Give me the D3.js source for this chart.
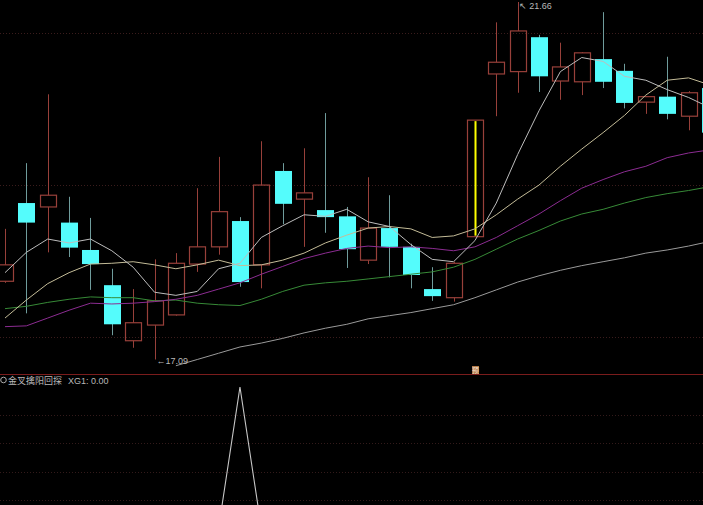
<!DOCTYPE html>
<html><head><meta charset="utf-8">
<script src="https://cdn.jsdelivr.net/npm/d3@7/dist/d3.min.js"></script>
<style>html,body{margin:0;padding:0;background:#000;overflow:hidden}svg{display:block}</style>
</head><body><svg id="c" width="703" height="505"></svg>
<script>
// ---- data ----
const openP  = [18.09,19.09,19.04,18.84,18.49,18.04,17.33,17.53,17.66,18.31,18.53,18.86,18.30,19.50,19.14,19.00,18.92,18.36,18.77,18.53,17.99,17.88,18.66,20.74,20.77,21.21,20.65,20.64,20.93,20.78,20.38,20.45,20.20,20.56];
const highP  = [18.76,19.60,20.48,19.17,18.90,18.25,17.99,18.37,18.45,19.28,19.68,18.91,19.88,19.60,19.79,20.24,19.04,19.42,19.19,18.57,18.27,18.34,20.15,21.40,21.66,21.24,21.14,21.02,21.53,20.87,20.45,20.96,20.52,20.60];
const lowP   = [18.07,17.68,18.46,18.40,17.98,17.40,17.24,17.09,17.65,18.21,18.43,18.02,18.00,18.82,18.53,18.71,18.26,18.31,18.14,18.00,17.84,17.83,18.66,20.20,20.50,20.51,20.41,20.47,20.56,20.30,20.23,20.16,20.02,19.92];
const closeP = [18.30,18.84,19.19,18.52,18.31,17.54,17.56,17.84,18.32,18.53,18.98,18.08,19.32,19.08,19.22,18.91,18.50,18.77,18.53,18.17,17.90,18.32,20.15,20.89,21.29,20.71,20.83,21.01,20.64,20.37,20.45,20.23,20.50,19.99];
const ma5  = [18.20,18.46,18.63,18.58,18.63,18.48,18.27,17.95,17.91,17.96,18.25,18.32,18.65,18.80,18.94,18.92,19.01,18.85,18.79,18.56,18.37,18.34,18.61,19.09,19.71,20.27,20.77,20.95,20.90,20.71,20.66,20.54,20.44,20.31];
const ma10 = [17.62,17.85,18.06,18.20,18.31,18.32,18.34,18.30,18.25,18.30,18.36,18.29,18.30,18.36,18.45,18.58,18.68,18.77,18.79,18.76,18.65,18.67,18.76,18.94,19.14,19.32,19.56,19.78,19.99,20.21,20.47,20.66,20.69,20.60];
const ma20 = [17.51,17.52,17.62,17.72,17.81,17.80,17.81,17.83,17.86,17.91,17.99,18.07,18.18,18.28,18.38,18.45,18.51,18.54,18.52,18.53,18.51,18.48,18.53,18.65,18.80,18.95,19.12,19.28,19.39,19.49,19.56,19.67,19.73,19.77];
const ma30 = [17.74,17.77,17.82,17.86,17.89,17.88,17.88,17.84,17.85,17.81,17.79,17.78,17.86,17.96,18.04,18.07,18.09,18.12,18.15,18.18,18.21,18.27,18.37,18.50,18.63,18.74,18.86,18.95,19.01,19.09,19.16,19.21,19.25,19.30];
const ma60 = [null,null,null,null,null,null,null,null,17.01,17.09,17.17,17.25,17.30,17.36,17.43,17.49,17.54,17.61,17.65,17.69,17.74,17.79,17.88,17.98,18.08,18.16,18.23,18.29,18.34,18.39,18.45,18.49,18.54,18.60];
const xg1  = [0,0,0,0,0,0,0,0,0,0,0,1,0,0,0,0,0,0,0,0,0,0,0,0,0,0,0,0,0,0,0,0,0,0];
const signalIdx = [22];
const priceGrid = [21.26, 19.32, 17.38];
const subGrid = [0.2, 0.4, 0.6, 0.8];
const maxLabel = "21.66", minLabel = "17.09";
const panelTitle = "金叉擒阳回探", panelValue = "XG1: 0.00";

// ---- drawing ----
const svg = d3.select("#c");
const n = closeP.length;
const x = d3.scaleLinear().domain([0, 33]).range([5, 709.9]);
const y = d3.scaleLinear().domain([17.09, 21.66]).range([359.5, 2]);
const ys = d3.scaleLinear().domain([0, 1]).range([528, 387]);
const idx = d3.range(n);
const half = 8;
const RED = "#98403a", CYAN = "#54fcfc", CYANW = "#6f9c9c";

svg.append("rect").attr("width",703).attr("height",505).attr("fill","#000");

// grids
svg.append("g").selectAll("line").data(priceGrid).join("line")
  .attr("x1",0).attr("x2",703).attr("y1",d=>Math.round(y(d))+0.5).attr("y2",d=>Math.round(y(d))+0.5)
  .attr("stroke","#3a1c1c").attr("stroke-dasharray","1,2").attr("stroke-width",1);
svg.append("g").selectAll("line").data(subGrid).join("line")
  .attr("x1",0).attr("x2",703).attr("y1",d=>Math.round(ys(d))+0.5).attr("y2",d=>Math.round(ys(d))+0.5)
  .attr("stroke","#321a1a").attr("stroke-dasharray","1,2").attr("stroke-width",1);

// candles
const g = svg.append("g");
idx.forEach(i => {
  const up = closeP[i] >= openP[i];
  const cx = Math.round(x(i)) + 0.5;
  const top = y(Math.max(openP[i], closeP[i])), bot = y(Math.min(openP[i], closeP[i]));
  if (up) {
    g.append("line").attr("x1",cx).attr("x2",cx).attr("y1",y(highP[i])).attr("y2",top).attr("stroke",RED);
    g.append("line").attr("x1",cx).attr("x2",cx).attr("y1",bot).attr("y2",y(lowP[i])).attr("stroke",RED);
    g.append("rect").attr("x",Math.round(x(i))-half+0.5).attr("y",top).attr("width",half*2).attr("height",Math.max(1,bot-top))
      .attr("fill","none").attr("stroke",RED).attr("stroke-width",1.2);
  } else {
    g.append("line").attr("x1",cx).attr("x2",cx).attr("y1",y(highP[i])).attr("y2",y(lowP[i])).attr("stroke",CYANW);
    g.append("rect").attr("x",Math.round(x(i))-half).attr("y",top).attr("width",half*2+1).attr("height",Math.max(1,bot-top))
      .attr("fill",CYAN);
  }
});
// signal yellow bar
svg.append("g").selectAll("line").data(signalIdx).join("line")
  .attr("x1",d=>Math.round(x(d))+0.5).attr("x2",d=>Math.round(x(d))+0.5)
  .attr("y1",d=>y(closeP[d])+1).attr("y2",d=>y(openP[d])-1)
  .attr("stroke","#ffff00").attr("stroke-width",2);

// moving averages
const lineGen = arr => d3.line().defined(i => arr[i] !== null).x(i => x(i)).y(i => y(arr[i]))(idx);
[[ma60,"#9a9a9a"],[ma30,"#378a37"],[ma20,"#8c2c92"],[ma10,"#c4bc98"],[ma5,"#bdbdbd"]].forEach(([arr,col]) => {
  svg.append("path").attr("d", lineGen(arr)).attr("fill","none").attr("stroke",col).attr("stroke-width",1);
});

// extreme labels
const iMax = highP.indexOf(d3.max(highP)), iMin = lowP.indexOf(d3.min(lowP));
svg.append("text").attr("x",x(iMax)+1).attr("y",y(highP[iMax])+7).attr("fill","#b8b8b8")
  .attr("font-family","Liberation Sans, Arial, sans-serif").attr("font-size",9).text("↖ " + maxLabel);
svg.append("text").attr("x",x(iMin)+2).attr("y",y(lowP[iMin])+4).attr("fill","#b8b8b8")
  .attr("font-family","Liberation Sans, Arial, sans-serif").attr("font-size",9).text("←" + minLabel);

// divider
svg.append("line").attr("x1",0).attr("x2",703).attr("y1",374.5).attr("y2",374.5).attr("stroke","#7a1c1c").attr("stroke-width",1);

// signal marker on divider
signalIdx.forEach(i => {
  svg.append("rect").attr("x",Math.round(x(i))-3).attr("y",366).attr("width",7).attr("height",8).attr("fill","#b57a48");
  svg.append("text").attr("x",Math.round(x(i))+0.5).attr("y",372.5).attr("text-anchor","middle").attr("fill","#f0e0d0")
    .attr("font-family","Noto Sans CJK SC").attr("font-size",7).text("预");
});

// sub panel title
svg.append("circle").attr("cx",3.5).attr("cy",380).attr("r",2.8).attr("fill","none").attr("stroke","#aaa").attr("stroke-width",1);
svg.append("text").attr("x",8).attr("y",383.5).attr("fill","#b8b8b8")
  .attr("font-family","Noto Sans CJK SC, sans-serif").attr("font-size",9).text(panelTitle);
svg.append("text").attr("x",68).attr("y",383.5).attr("fill","#b8b8b8")
  .attr("font-family","Liberation Sans, Arial, sans-serif").attr("font-size",9).text(panelValue);

// XG1 line
svg.append("path").attr("d", d3.line().x(i=>x(i)).y(i=>ys(xg1[i]))(idx))
  .attr("fill","none").attr("stroke","#c8c8c8").attr("stroke-width",1.1);
</script></body></html>
